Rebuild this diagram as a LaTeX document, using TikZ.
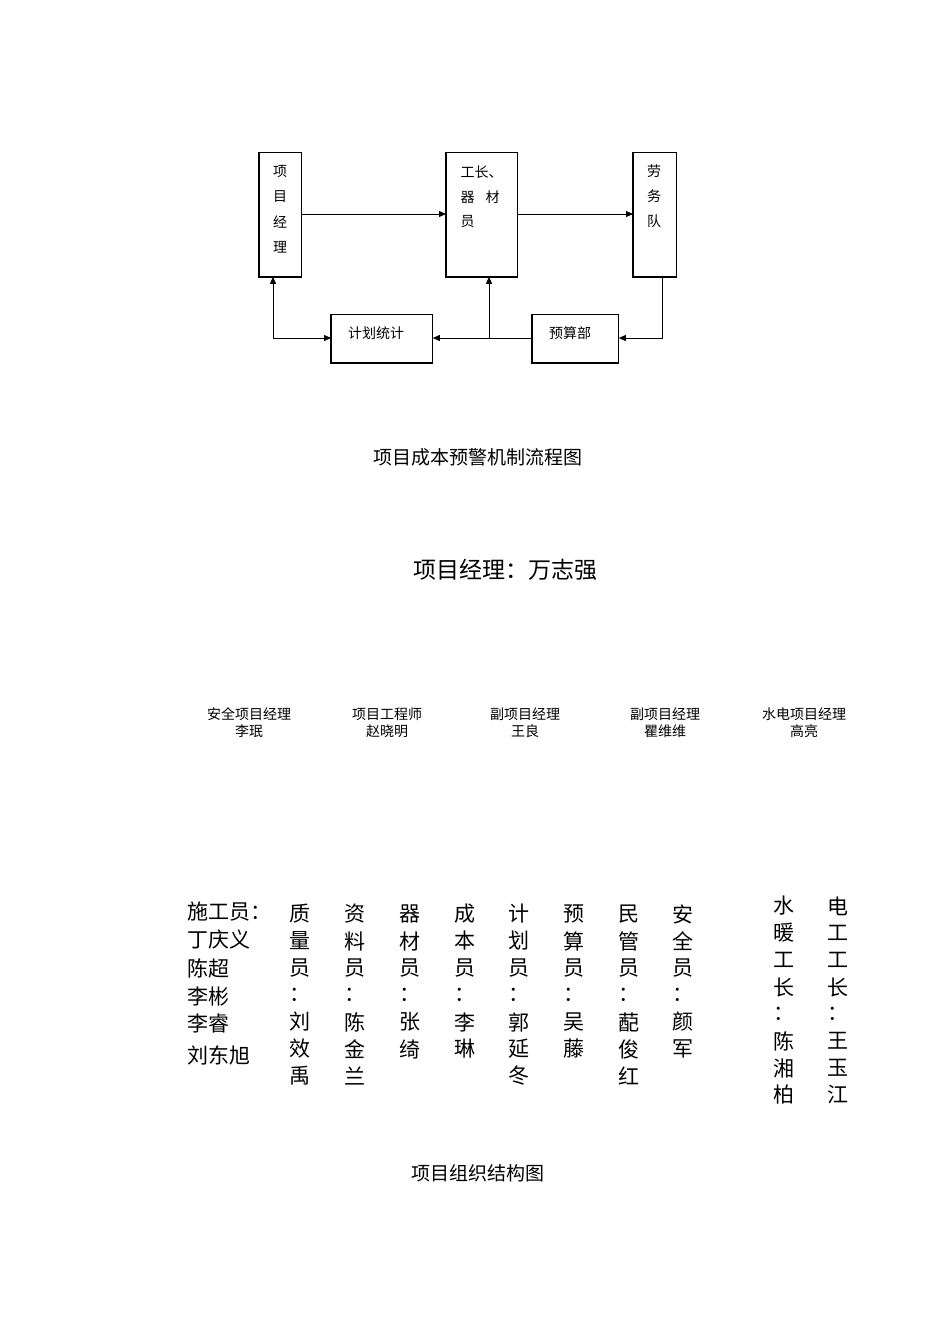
\documentclass[tikz,border=0pt]{standalone}
\usepackage{fontspec}
\setmainfont{Noto Sans CJK SC}
\usetikzlibrary{arrows.meta}
\begin{document}
\begin{tikzpicture}[x=1pt,y=-1pt,
  box/.style={draw,line width=0.8pt,anchor=north west,inner sep=0pt},
  conn/.style={line width=0.8pt,-{Triangle[length=7pt,width=6pt]}},
  ft/.style={font=\fontsize{14}{14}\selectfont},
  bt/.style={font=\fontsize{21}{21}\selectfont},
  ht/.style={font=\fontsize{14}{17}\selectfont,align=center}]
\useasboundingbox (0,0) rectangle (950,1344);
% flowchart
\node[box,minimum width=42pt,minimum height=124pt] (pm) at (259,152) {};
\node[box,minimum width=71pt,minimum height=124pt] (gz) at (446,152) {};
\node[box,minimum width=43pt,minimum height=124pt] (lw) at (633,152) {};
\node[box,minimum width=101pt,minimum height=48pt] (jh) at (331,314) {};
\node[box,minimum width=86pt,minimum height=48pt] (ys) at (532,314) {};
\draw[line width=1.6pt] (pm.north west)--(pm.south west)--(pm.south east);
\draw[line width=1.6pt] (gz.north west)--(gz.south west)--(gz.south east);
\draw[line width=1.6pt] (lw.north west)--(lw.south west)--(lw.south east);
\draw[line width=1.6pt] (jh.north west)--(jh.south west)--(jh.south east);
\draw[line width=1.6pt] (ys.north west)--(ys.south west)--(ys.south east);
\foreach \t/\y in {项/171,目/197,经/222,理/247} \node[ft] (p\y) at (280,\y) {\t};
\node[ft,anchor=west] (g1) at (457,172) {工长、};
\node[ft,anchor=west] (g2) at (457,197) {器\hspace{11pt}材};
\node[ft,anchor=west] (g3) at (457,222) {员};
\foreach \t/\y in {劳/171,务/196,队/221} \node[ft] (l\y) at (654,\y) {\t};
\node[ft] (jht) at (376,333) {计划统计};
\node[ft] (yst) at (570,333) {预算部};
\draw[conn] (pm.east |- 0,214) -- (gz.west |- 0,214);
\draw[conn] (gz.east |- 0,214) -- (lw.west |- 0,214);
\draw[conn] (lw.south -| 662,0) -- (662,338) -- (ys.east |- 0,338);
\draw[conn] (ys.west |- 0,338) -- (jh.east |- 0,338);
\coordinate (j) at (489,338);
\draw[conn] (j) -- (gz.south -| j);
\draw[conn,{Triangle[length=7pt,width=6pt]}-{Triangle[length=7pt,width=6pt]}] (pm.south -| 273,0) -- (273,338) -- (jh.west |- 0,338);
\node[font=\fontsize{19}{19}\selectfont] (cap1) at (478,457) {项目成本预警机制流程图};
% org
\node[font=\fontsize{23}{23}\selectfont] (top) at (505,570) {项目经理：万志强};
\node[ht] (h1) at (249,723) {安全项目经理\\李珉};
\node[ht] (h2) at (387,723) {项目工程师\\赵晓明};
\node[ht] (h3) at (525,723) {副项目经理\\王良};
\node[ht] (h4) at (665,723) {副项目经理\\瞿维维};
\node[ht] (h5) at (804,723) {水电项目经理\\高亮};
\foreach \t/\y in {施工员：/912,丁庆义/939,陈超/968,李彬/997,李睿/1024,刘东旭/1055}
  \node[bt,anchor=west] at (184,\y) {\t};
\foreach \x/\l in {300/{质,量,员,：,刘,效,禹},355/{资,料,员,：,陈,金,兰},410/{器,材,员,：,张,绮},465/{成,本,员,：,李,琳},519/{计,划,员,：,郭,延,冬},574/{预,算,员,：,吴,藤},629/{民,管,员,：,蓜,俊,红},683/{安,全,员,：,颜,军}}
  \foreach \c [count=\i] in \l
    \node[bt] at (\x,{914+(\i-1)*27}) {\c};
\foreach \x/\l in {784/{水,暖,工,长,：,陈,湘,柏},838/{电,工,工,长,：,王,玉,江}}
  \foreach \c [count=\i] in \l
    \node[bt] at (\x,{906+(\i-1)*27}) {\c};
\node[font=\fontsize{19}{19}\selectfont] (cap2) at (478,1173) {项目组织结构图};
\end{tikzpicture}
\end{document}
